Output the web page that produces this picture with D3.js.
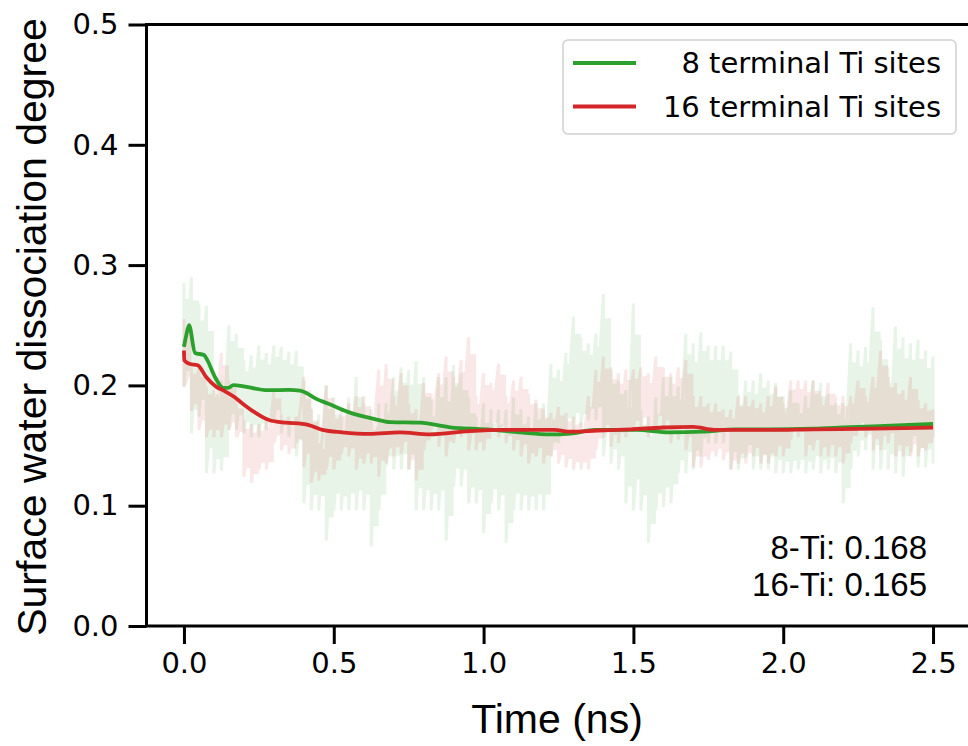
<!DOCTYPE html>
<html>
<head>
<meta charset="utf-8">
<script src="https://d3js.org/d3.v7.min.js"></script>
<style>
  body { margin: 0; background: #fff; }
  svg { display: block; }
</style>
</head>
<body>
<svg id="chart" width="968" height="746"></svg>
<script>
var noiseT = [0,0.025,0.05,0.075,0.1,0.125,0.15,0.175,0.2,0.225,0.25,0.275,0.3,0.325,0.35,0.375,0.4,0.425,0.45,0.475,
  0.5,0.525,0.55,0.575,0.6,0.625,0.65,0.675,0.7,0.725,0.75,0.775,0.8,0.825,0.85,0.875,0.9,0.925,0.95,0.975,
  1.0,1.025,1.05,1.075,1.1,1.125,1.15,1.175,1.2,1.225,1.25,1.275,1.3,1.325,1.35,1.375,1.4,1.425,1.45,1.475,
  1.5,1.525,1.55,1.575,1.6,1.625,1.65,1.675,1.7,1.725,1.75,1.775,1.8,1.825,1.85,1.875,1.9,1.925,1.95,1.975,
  2.0,2.025,2.05,2.075,2.1,2.125,2.15,2.175,2.2,2.225,2.25,2.275,2.3,2.325,2.35,2.375,2.4,2.425,2.45,2.475,2.5];

var greenHi = [.285,.290,.268,.266,.204,.204,.250,.243,.221,.225,.233,.227,.233,.232,.228,.229,.204,.182,.176,.200,.190,.174,.190,.207,.185,
  .180,.185,.185,.207,.215,.213,.220,.207,.188,.207,.207,.217,.210,.190,.174,.185,.180,.180,.180,.190,.180,.174,.185,.185,.218,.213,.227,
  .257,.240,.235,.243,.276,.213,.204,.196,.268,.180,.174,.190,.207,.207,.199,.243,.235,.244,.233,.233,.233,.228,.193,.204,.204,.210,
  .204,.202,.191,.196,.185,.191,.204,.202,.193,.185,.185,.235,.229,.232,.265,.238,.215,.249,.240,.235,.238,.229,.224];
var greenLo = [.199,.160,.174,.127,.127,.129,.163,.163,.160,.157,.157,.163,.170,.160,.157,.141,.102,.096,.096,.071,.096,.096,.096,.096,.096,
  .066,.096,.133,.130,.130,.130,.096,.096,.096,.096,.071,.116,.116,.102,.102,.077,.102,.096,.069,.096,.096,.096,.096,.096,.141,.152,.163,
  .163,.165,.171,.171,.141,.135,.130,.102,.096,.096,.069,.096,.099,.102,.127,.127,.130,.141,.152,.152,.152,.130,.130,.141,.130,.130,
  .130,.127,.127,.127,.130,.127,.130,.127,.130,.127,.102,.130,.141,.146,.130,.130,.130,.127,.124,.144,.132,.132,.135];
var redHi = [.255,.215,.215,.199,.196,.227,.204,.185,.171,.168,.168,.171,.196,.176,.174,.174,.207,.180,.152,.200,.180,.180,.185,.191,.191,
  .171,.213,.218,.191,.210,.185,.180,.202,.193,.210,.224,.207,.221,.240,.191,.210,.202,.218,.191,.204,.207,.193,.188,.180,.177,.182,.177,
  .174,.169,.191,.213,.224,.215,.210,.213,.213,.215,.210,.224,.215,.210,.215,.221,.191,.191,.185,.185,.180,.180,.191,.191,.188,.185,
  .191,.199,.185,.204,.204,.204,.204,.191,.202,.191,.191,.191,.204,.191,.207,.229,.207,.202,.196,.207,.188,.185,.180];
var redLo = [.199,.179,.163,.157,.157,.157,.163,.157,.124,.119,.130,.130,.152,.146,.143,.152,.132,.119,.121,.130,.130,.143,.141,.130,.135,
  .135,.124,.135,.141,.143,.130,.121,.146,.163,.149,.141,.152,.157,.146,.146,.146,.163,.157,.152,.146,.141,.135,.141,.135,.141,.135,.132,
  .130,.130,.130,.146,.157,.149,.152,.157,.163,.166,.157,.166,.163,.152,.155,.146,.132,.132,.138,.141,.138,.130,.135,.135,.141,.135,
  .135,.141,.141,.155,.157,.141,.146,.141,.141,.141,.135,.152,.163,.157,.146,.146,.152,.141,.141,.141,.141,.146,.157];

// running averages
var greenT = [0,0.008,0.017,0.037,0.067,0.078,0.103,0.131,0.148,0.165,0.28,0.35,0.387,0.41,0.44,0.48,0.547,0.637,0.688,0.788,0.888,1.01,
  1.12,1.22,1.29,1.373,1.51,1.62,1.73,1.84,1.95,2.1,2.2,2.3,2.4,2.5];
var greenV = [0.232,0.242,0.250,0.227,0.2252,0.221,0.2072,0.198,0.198,0.2003,0.196,0.1962,0.1957,0.1935,0.189,0.185,0.178,0.172,0.1695,0.169,0.1652,0.1634,
  0.161,0.1593,0.160,0.163,0.163,0.161,0.1615,0.1635,0.1635,0.164,0.165,0.166,0.167,0.168];
var redT = [0,0.001,0.018,0.046,0.074,0.107,0.134,0.167,0.195,0.234,0.284,0.339,0.395,0.417,0.462,0.528,0.62,0.72,0.82,0.952,
  1.07,1.236,1.29,1.38,1.49,1.6,1.7,1.77,1.95,2.1,2.3,2.5];
var redV = [0.229,0.221,0.218,0.2167,0.207,0.199,0.1955,0.1906,0.185,0.178,0.1712,0.169,0.168,0.167,0.163,0.161,0.1597,0.161,0.1593,0.162,
  0.163,0.163,0.1615,0.1625,0.1635,0.165,0.1655,0.163,0.163,0.1635,0.164,0.165];

var xTicks = [0, 0.5, 1.0, 1.5, 2.0, 2.5];
var yTicks = [0, 0.1, 0.2, 0.3, 0.4, 0.5];
var seriesNames = ['8 terminal Ti sites', '16 terminal Ti sites'];
var notes = ['8-Ti: 0.168', '16-Ti: 0.165'];

var GREEN = '#2ca02c', RED = '#d62728';

var svg = d3.select('#chart');
var xs = d3.scaleLinear().domain([-0.125, 2.625]).range([146.5, 970.5]);
var ys = d3.scaleLinear().domain([0, 0.5]).range([626, 24.5]);

// noisy raw traces: band between low and high, plus a zig-zag for the spikes.
// drawn opaque inside a faded group so overlaps don't stack up
function zigzag(lo, hi) {
  var pts = [];
  noiseT.forEach(function(t, i) {
    pts.push([t, hi[i]]);
    pts.push([t, lo[i]]);
  });
  return pts;
}
var raw = d3.line().x(d => xs(d[0])).y(d => ys(d[1]));
var band = d3.area().x((d, i) => xs(noiseT[i])).y0(d => ys(d[0])).y1(d => ys(d[1])).curve(d3.curveStepAfter);

[[greenLo, greenHi, GREEN], [redLo, redHi, RED]].forEach(function(s) {
  var g = svg.append('g').attr('opacity', 0.1);
  var lo = s[0], hi = s[1];
  // inner core of the band, a bit narrower than the spikes
  g.append('path')
    .attr('d', band(lo.map((v, i) => [v + (hi[i] - v) * 0.15, hi[i] - (hi[i] - v) * 0.15])))
    .attr('fill', s[2]);
  g.append('path')
    .attr('d', raw(zigzag(lo, hi)))
    .attr('fill', 'none').attr('stroke', s[2])
    .attr('stroke-width', 3).attr('stroke-linejoin', 'miter');
});

// averages
var avg = d3.line().x(d => xs(d[0])).y(d => ys(d[1])).curve(d3.curveMonotoneX);
svg.append('path')
  .attr('d', avg(greenT.map((t, i) => [t, greenV[i]])))
  .attr('fill', 'none').attr('stroke', GREEN).attr('stroke-width', 3.8);
svg.append('path')
  .attr('d', avg(redT.map((t, i) => [t, redV[i]])))
  .attr('fill', 'none').attr('stroke', RED).attr('stroke-width', 3.8);

// axes
var xAxis = svg.append('g')
  .attr('transform', 'translate(0,626)')
  .call(d3.axisBottom(xs).tickValues(xTicks).tickFormat(d3.format('.1f')).tickSize(18).tickPadding(8).tickSizeOuter(0));
var yAxis = svg.append('g')
  .attr('transform', 'translate(146.5,0)')
  .call(d3.axisLeft(ys).tickValues(yTicks).tickFormat(d3.format('.1f')).tickSize(18).tickPadding(10).tickSizeOuter(0));
[xAxis, yAxis].forEach(function(a) {
  a.select('.domain').remove();
  a.selectAll('.tick line').attr('stroke', '#000').attr('stroke-width', 3);
  a.selectAll('.tick text').attr('fill', '#000')
    .style('font-family', 'DejaVu Sans').style('font-size', '29px');
});

// spines (right one falls outside the picture)
svg.append('rect')
  .attr('x', xs(-0.125)).attr('y', ys(0.5))
  .attr('width', xs(2.625) - xs(-0.125)).attr('height', ys(0) - ys(0.5))
  .attr('fill', 'none').attr('stroke', '#000').attr('stroke-width', 3);

// axis titles
svg.append('text')
  .attr('x', 557).attr('y', 733)
  .attr('text-anchor', 'middle')
  .style('font-family', 'Liberation Sans, Arial, sans-serif').style('font-size', '41px')
  .text('Time (ns)');
svg.append('text')
  .attr('transform', 'translate(46,327) rotate(-90)')
  .attr('text-anchor', 'middle')
  .style('font-family', 'Liberation Sans, Arial, sans-serif').style('font-size', '41px')
  .text('Surface water dissociation degree');

// legend
var leg = svg.append('g');
leg.append('rect')
  .attr('x', 563).attr('y', 40).attr('width', 393).attr('height', 94).attr('rx', 5)
  .attr('fill', '#fff').attr('fill-opacity', 0.8)
  .attr('stroke', '#d0d0d0').attr('stroke-width', 1.5);
[GREEN, RED].forEach(function(c, i) {
  var yy = 63 + i * 43.5;
  leg.append('line').attr('x1', 573).attr('x2', 636).attr('y1', yy).attr('y2', yy)
    .attr('stroke', c).attr('stroke-width', 3.8);
  leg.append('text').attr('x', 941).attr('y', yy).attr('dy', '0.36em')
    .attr('text-anchor', 'end')
    .style('font-family', 'DejaVu Sans').style('font-size', '29px')
    .text(seriesNames[i]);
});

// averages note
notes.forEach(function(s, i) {
  svg.append('text').attr('x', 927).attr('y', 559 + i * 37)
    .attr('text-anchor', 'end')
    .style('font-family', 'Liberation Sans, Arial, sans-serif').style('font-size', '33px')
    .text(s);
});
</script>
</body>
</html>
